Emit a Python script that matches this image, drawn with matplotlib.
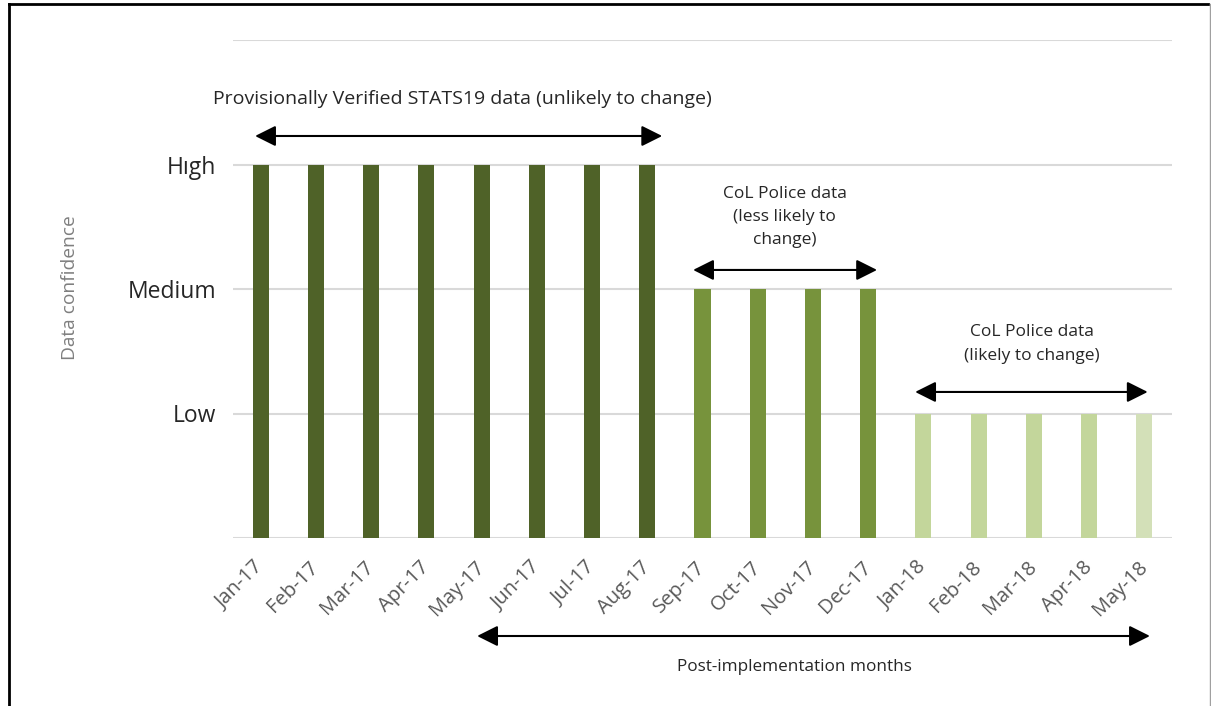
import matplotlib.pyplot as plt
from matplotlib.lines import Line2D

plt.rcParams['font.family'] = ['Open Sans', 'DejaVu Sans']

# Data
months = ['Jan-17', 'Feb-17', 'Mar-17', 'Apr-17', 'May-17', 'Jun-17', 'Jul-17', 'Aug-17',
          'Sep-17', 'Oct-17', 'Nov-17', 'Dec-17',
          'Jan-18', 'Feb-18', 'Mar-18', 'Apr-18', 'May-18']
confidence = [3, 3, 3, 3, 3, 3, 3, 3, 2, 2, 2, 2, 1, 1, 1, 1, 1]
level_names = ['Low', 'Medium', 'Hıgh']
level_values = [1, 2, 3]

dark = '#4F6228'
mid = '#77933C'
light = '#C3D69B'
bar_colors = [dark] * 8 + [mid] * 4 + [light] * 4 + ['#D3E0B8']

fig = plt.figure(figsize=(12.11, 7.06), dpi=100)
ax = fig.add_axes([233 / 1211, 1 - 538 / 706, 939 / 1211, 498 / 706])

x = list(range(len(months)))
ax.bar(x, confidence, width=0.29, color=bar_colors, zorder=3)

ax.set_xlim(-0.5, len(months) - 0.5)
ax.set_ylim(0, 4)
ax.set_yticks([0] + level_values + [4])
ax.set_yticklabels([''] + level_names + [''], fontsize=16.5, color='#262626')
ax.yaxis.grid(True, color='#D9D9D9', linewidth=1.5, zorder=0)
ax.tick_params(axis='y', length=0, pad=12)
ax.set_xticks(x)
ax.set_xticklabels(months, rotation=45, ha='right', va='center', rotation_mode='anchor',
                   fontsize=14.5, color='#595959')
ax.tick_params(axis='x', length=0, pad=19)
for s in ax.spines.values():
    s.set_visible(False)

arrow = dict(arrowstyle='<|-|>,head_length=0.9,head_width=0.45', color='black',
             lw=1.5, shrinkA=0, shrinkB=0, mutation_scale=14)

# annotation arrows and texts
ax.annotate('', xy=(-0.1, 3.229), xytext=(7.27, 3.229), arrowprops=arrow)
ax.text(3.66, 3.526, 'Provisionally Verified STATS19 data (unlikely to change)',
        ha='center', va='center', fontsize=14, color='#262626')

ax.annotate('', xy=(7.83, 2.153), xytext=(11.16, 2.153), arrowprops=arrow)
ax.text(9.49, 2.578, 'CoL Police data\n(less likely to\nchange)', ha='center', va='center',
        fontsize=12.5, color='#262626', linespacing=1.6)

ax.annotate('', xy=(11.85, 1.173), xytext=(16.06, 1.173), arrowprops=arrow)
ax.text(13.97, 1.558, 'CoL Police data\n(likely to change)', ha='center', va='center',
        fontsize=12.5, color='#262626', linespacing=1.6)

ax.annotate('', xy=(3.92, 1 - 636 / 706), xytext=(16.1, 1 - 636 / 706),
            xycoords=('data', 'figure fraction'), textcoords=('data', 'figure fraction'),
            arrowprops=arrow, annotation_clip=False)
ax.annotate('Post-implementation months', xy=(9.67, 1 - 667 / 706),
            xycoords=('data', 'figure fraction'), ha='center', va='center',
            fontsize=12.3, color='#262626', annotation_clip=False)

fig.text(70 / 1211, 1 - 288 / 706, 'Data confidence', rotation=90, ha='center', va='center',
         fontsize=13.8, color='#7F7F7F')

# screenshot frame
fig.add_artist(Line2D([8.5 / 1211, 1208 / 1211], [1 - 4 / 706, 1 - 4 / 706],
                      transform=fig.transFigure, color='black', lw=2))
fig.add_artist(Line2D([8.5 / 1211, 8.5 / 1211], [0, 1 - 4 / 706],
                      transform=fig.transFigure, color='black', lw=2))
fig.add_artist(Line2D([1209.5 / 1211, 1209.5 / 1211], [0, 1 - 4 / 706],
                      transform=fig.transFigure, color='#A0A0A0', lw=1))

fig.savefig('out.png', dpi=100)
